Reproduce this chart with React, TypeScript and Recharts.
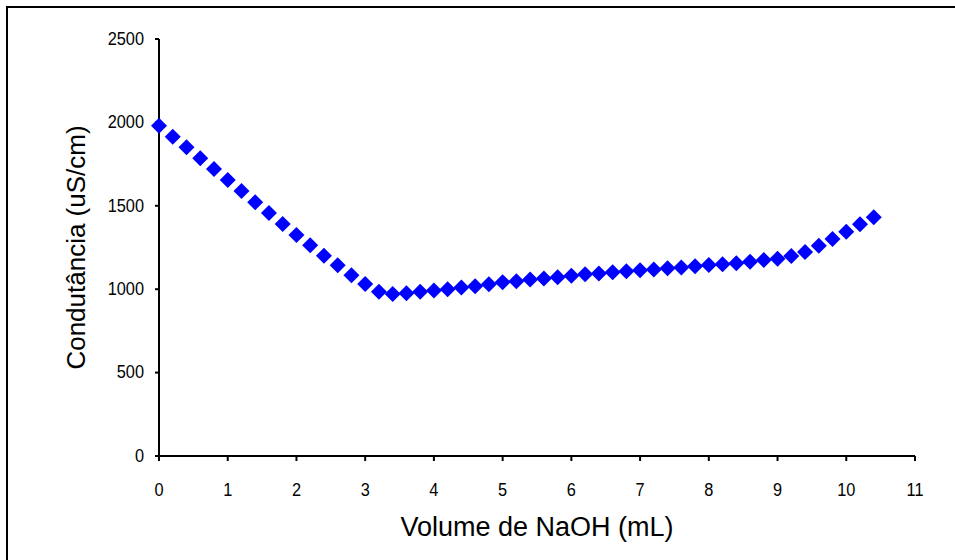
import React from "react";
import { ScatterChart, Scatter, XAxis, YAxis } from "recharts";

// volume of NaOH added (mL)
const volumes = [
  0, 0.2, 0.4, 0.6, 0.8, 1.0, 1.2, 1.4, 1.6, 1.8, 2.0, 2.2, 2.4, 2.6, 2.8,
  3.0, 3.2, 3.4, 3.6, 3.8, 4.0, 4.2, 4.4, 4.6, 4.8, 5.0, 5.2, 5.4, 5.6, 5.8,
  6.0, 6.2, 6.4, 6.6, 6.8, 7.0, 7.2, 7.4, 7.6, 7.8, 8.0, 8.2, 8.4, 8.6, 8.8,
  9.0, 9.2, 9.4, 9.6, 9.8, 10.0, 10.2, 10.4,
];

// conductance (uS/cm)
const conductance = [
  1980, 1914, 1851, 1785, 1721, 1655, 1589, 1521, 1457, 1391, 1325, 1263, 1201,
  1143, 1083, 1031, 985, 971, 975, 985, 992, 1000, 1010, 1018, 1030, 1042, 1048,
  1058, 1064, 1072, 1080, 1089, 1094, 1101, 1108, 1114, 1118, 1125, 1130, 1138,
  1145, 1149, 1155, 1165, 1175, 1183, 1199, 1223, 1261, 1301, 1345, 1389, 1431,
];

const xTicks = [0, 1, 2, 3, 4, 5, 6, 7, 8, 9, 10, 11];
const yTicks = [0, 500, 1000, 1500, 2000, 2500];

const data = volumes.map((v, i) => ({ x: v, y: conductance[i] }));

const FONT = "'Liberation Sans', Arial, sans-serif";
const axisStyle = { stroke: "#000", strokeWidth: 2 };
const TICK_SIZE = 19;
const SQUEEZE = 0.86;

// rotated square marker like the spreadsheet diamond
const Diamond = (props: any) => {
  const { cx, cy } = props;
  const r = 8;
  return (
    <polygon
      points={`${cx},${cy - r} ${cx + r},${cy} ${cx},${cy + r} ${cx - r},${cy}`}
      fill="#0000FF"
    />
  );
};

// tick labels are a bit narrow in the original, squeeze them horizontally
const XTick = ({ x, y, payload }: any) => (
  <g transform={`translate(${x},${y})`}>
    <text
      transform={`scale(${SQUEEZE},1)`}
      textAnchor="middle"
      dy="0.71em"
      fontSize={TICK_SIZE}
      fontFamily={FONT}
      fill="#000"
    >
      {payload.value}
    </text>
  </g>
);

const YTick = ({ x, y, payload }: any) => (
  <g transform={`translate(${x},${y})`}>
    <text
      transform={`scale(${SQUEEZE},1)`}
      textAnchor="end"
      dy="0.3em"
      fontSize={TICK_SIZE}
      fontFamily={FONT}
      fill="#000"
    >
      {payload.value}
    </text>
  </g>
);

export default function App() {
  return (
    <div style={{ position: "absolute", left: 0, top: 0, width: 955, height: 560, background: "#fff", overflow: "hidden" }}>
      <div
        style={{
          position: "absolute",
          left: 6,
          top: 6,
          width: 1000,
          height: 600,
          borderTop: "2px solid #000",
          borderLeft: "2px solid #000",
        }}
      />
      <div style={{ position: "absolute", left: 0, top: 0 }}>
        <ScatterChart
          width={955}
          height={560}
          margin={{ top: 39, right: 40, bottom: 44, left: 0 }}
        >
          <XAxis
            type="number"
            dataKey="x"
            domain={[0, 11]}
            ticks={xTicks}
            interval={0}
            height={60}
            axisLine={axisStyle}
            tickLine={axisStyle}
            tickSize={5}
            tickMargin={21}
            tick={<XTick />}
          />
          <YAxis
            type="number"
            dataKey="y"
            domain={[0, 2500]}
            ticks={yTicks}
            interval={0}
            width={159}
            axisLine={axisStyle}
            tickLine={axisStyle}
            tickSize={4}
            tickMargin={11}
            tick={<YTick />}
          />
          <Scatter
            data={data}
            shape={<Diamond />}
            isAnimationActive={false}
          />
        </ScatterChart>
      </div>
      <svg width={955} height={560} style={{ position: "absolute", left: 0, top: 0, pointerEvents: "none" }}>
        <text
          x={537}
          y={536}
          textAnchor="middle"
          fontSize={27}
          fontFamily={FONT}
          fill="#000"
        >
          Volume de NaOH (mL)
        </text>
        <text
          x={85}
          y={247.5}
          transform="rotate(-90 85 247.5)"
          textAnchor="middle"
          fontSize={26}
          fontFamily={FONT}
          fill="#000"
        >
          Condutância (uS/cm)
        </text>
      </svg>
    </div>
  );
}
